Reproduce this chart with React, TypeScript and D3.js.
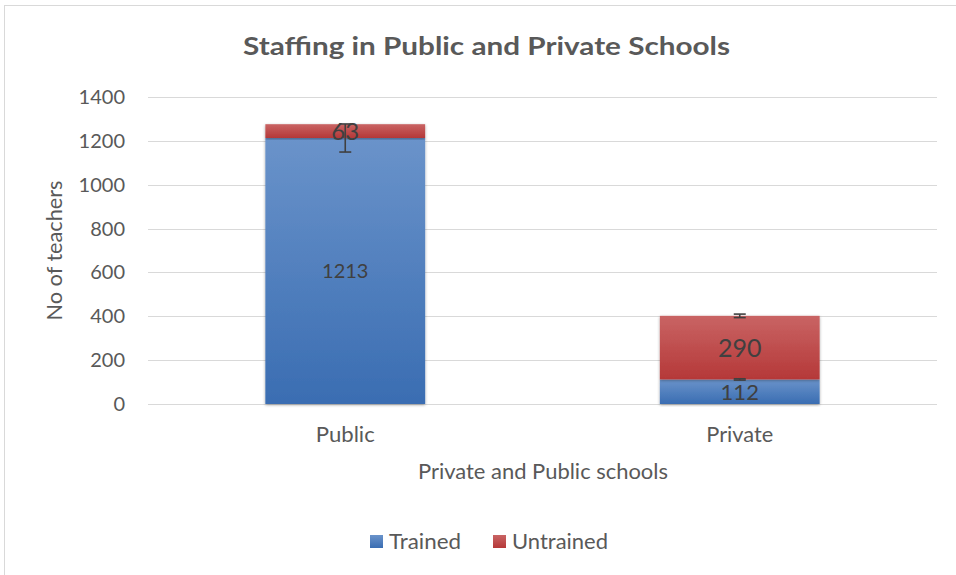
import React from "react";
import * as d3 from "d3";

const categories = ["Public", "Private"];
const trained = [1213, 112];
const untrained = [63, 290];
const trainedErr = [64, 3];
const untrainedErr = [0, 8];
const yTicks = [0, 200, 400, 600, 800, 1000, 1200, 1400];
const seriesNames = ["Trained", "Untrained"];
const title = "Staffing in Public and Private Schools";
const yTitle = "No of teachers";
const xTitle = "Private and Public schools";

const W = 956;
const H = 575;
const FONT = "Lato, 'Open Sans', sans-serif";
const TEXT = "#595959";

export default function App() {
  const x = d3.scalePoint<string>().domain(categories).range([148, 937]).padding(0.5);
  const step = x.step();
  const barW = step * 0.405;
  const y = d3.scaleLinear().domain([0, 1400]).range([404, 97]);

  const stack = d3.stack<any>().keys(["trained", "untrained"])(
    categories.map((c, i) => ({ cat: c, trained: trained[i], untrained: untrained[i] }))
  );
  const fills = ["url(#gBlue)", "url(#gRed)"];
  const errs = [trainedErr, untrainedErr];
  const labelSizes = [
    [20, 24],
    [22, 25],
  ];

  return (
    <svg width={W} height={H} style={{ position: "absolute", left: 0, top: 0, background: "#fff" }}>
      <defs>
        <linearGradient id="gBlue" x1="0" y1="0" x2="0" y2="1">
          <stop offset="0" stopColor="#6a93ca" />
          <stop offset="1" stopColor="#3a6db2" />
        </linearGradient>
        <linearGradient id="gRed" x1="0" y1="0" x2="0" y2="1">
          <stop offset="0" stopColor="#c96464" />
          <stop offset="1" stopColor="#b53838" />
        </linearGradient>
        <filter id="shadow" x="-10%" y="-10%" width="120%" height="120%">
          <feDropShadow dx="0" dy="1" stdDeviation="1.5" floodColor="#000" floodOpacity="0.35" />
        </filter>
      </defs>
      <rect x={4.5} y={5.5} width={1000} height={1000} fill="#fff" stroke="#d9d9d9" strokeWidth={1} />

      <text x={486.5} y={55} textAnchor="middle" fontFamily={FONT} fontWeight="bold" fontSize={25} fill={TEXT}
        textLength={487} lengthAdjust="spacingAndGlyphs">
        {title}
      </text>

      {yTicks.map((t) => (
        <g key={t}>
          <line x1={148} x2={937} y1={Math.round(y(t)) + 0.5} y2={Math.round(y(t)) + 0.5} stroke="#d9d9d9" strokeWidth={1.2} />
          <text x={125} y={y(t)} dy="0.35em" textAnchor="end" fontFamily={FONT} fontSize={20} fill={TEXT}>
            {t}
          </text>
        </g>
      ))}

      <text
        transform={`translate(62,${(y(0) + y(1400)) / 2}) rotate(-90)`}
        textAnchor="middle"
        fontFamily={FONT}
        fontSize={21}
        fill={TEXT}
        textLength={140}
        lengthAdjust="spacingAndGlyphs"
      >
        {yTitle}
      </text>

      {stack.map((s, si) =>
        s.map((d, ci) => {
          const cx = x(categories[ci])!;
          return (
            <rect
              key={`${si}-${ci}`}
              x={cx - barW / 2}
              y={y(d[1])}
              width={barW}
              height={y(d[0]) - y(d[1])}
              fill={fills[si]}
              filter="url(#shadow)"
            />
          );
        })
      )}

      {stack.map((s, si) =>
        s.map((d, ci) => {
          const cx = x(categories[ci])!;
          const e = errs[si][ci];
          if (!e) return null;
          const top = y(d[1] + e);
          const bot = y(d[1] - e);
          return (
            <g key={`e${si}-${ci}`} stroke="#404040" strokeWidth={1.6}>
              <line x1={cx} x2={cx} y1={top} y2={bot} />
              <line x1={cx - 6} x2={cx + 6} y1={top} y2={top} />
              <line x1={cx - 6} x2={cx + 6} y1={bot} y2={bot} />
            </g>
          );
        })
      )}

      {stack.map((s, si) =>
        s.map((d, ci) => {
          const cx = x(categories[ci])!;
          const vals = si === 0 ? trained : untrained;
          return (
            <text
              key={`l${si}-${ci}`}
              x={cx}
              y={(y(d[0]) + y(d[1])) / 2}
              dy="0.36em"
              textAnchor="middle"
              fontFamily={FONT}
              fontSize={labelSizes[ci][si]}
              fill="#404040"
            >
              {vals[ci]}
            </text>
          );
        })
      )}

      {categories.map((c, i) => (
        <text key={c} x={x(c)!} y={442} textAnchor="middle" fontFamily={FONT} fontSize={21} fill={TEXT}
          textLength={i === 0 ? 59 : 67} lengthAdjust="spacingAndGlyphs">
          {c}
        </text>
      ))}

      <text x={543} y={479} textAnchor="middle" fontFamily={FONT} fontSize={21} fill={TEXT}
        textLength={250} lengthAdjust="spacingAndGlyphs">
        {xTitle}
      </text>

      {seriesNames.map((n, i) => {
        const lx = i === 0 ? 370 : 493;
        return (
          <g key={n}>
            <rect x={lx} y={535} width={13} height={13} fill={i === 0 ? "url(#gBlue)" : "url(#gRed)"} />
            <text x={lx + 19} y={549} fontFamily={FONT} fontSize={21} fill={TEXT}
              textLength={i === 0 ? 72 : 96} lengthAdjust="spacingAndGlyphs">
              {n}
            </text>
          </g>
        );
      })}
    </svg>
  );
}
